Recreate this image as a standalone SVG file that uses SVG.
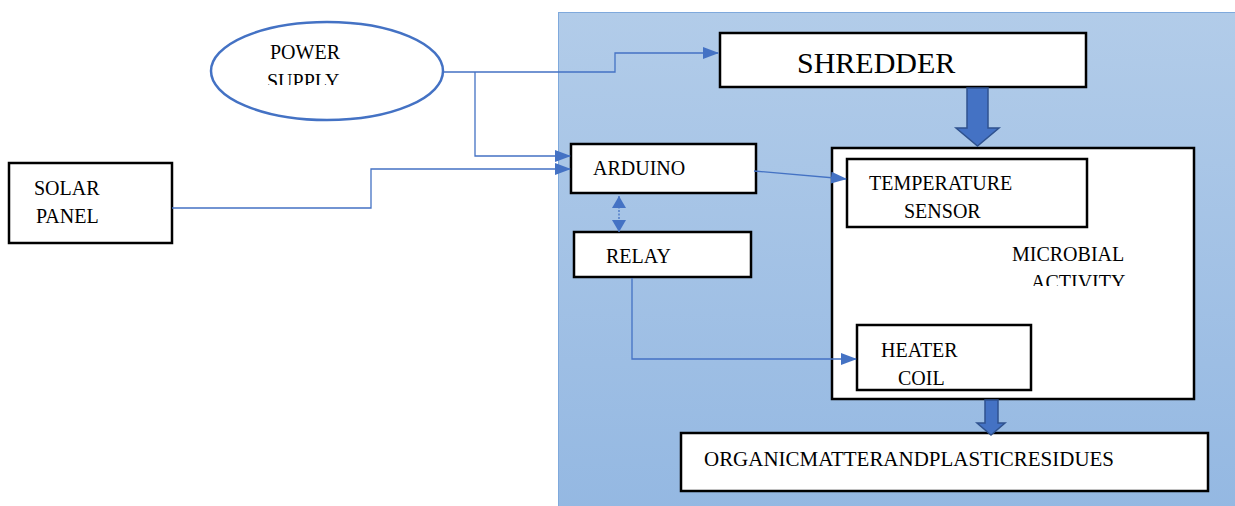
<svg xmlns="http://www.w3.org/2000/svg" width="1235" height="506" viewBox="0 0 1235 506">
<style>
.t{font-family:"Liberation Serif","Times New Roman",serif;font-size:20px;fill:#000}
.box{fill:#fff;stroke:#000;stroke-width:2.5}
.con{fill:none;stroke:#4472c4;stroke-width:1.3}
.blk{fill:#4472c4;stroke:#2f528f;stroke-width:1.5}
</style>
<defs>
<linearGradient id="bg" x1="0" y1="0" x2="0" y2="1">
<stop offset="0" stop-color="#b2cce9"/>
<stop offset="1" stop-color="#94b8e2"/>
</linearGradient>
<marker id="ah" markerUnits="userSpaceOnUse" markerWidth="16" markerHeight="12" refX="15" refY="6" orient="auto">
<path d="M0,0 L16,6 L0,12 Z" fill="#4472c4"/>
</marker>
<marker id="ahs" markerUnits="userSpaceOnUse" markerWidth="13" markerHeight="14" refX="12" refY="7" orient="auto-start-reverse">
<path d="M0,0 L12,7 L0,14 Z" fill="#4472c4"/>
</marker>
<clipPath id="cs"><rect x="200" y="20" width="200" height="65"/></clipPath>
<clipPath id="ca"><rect x="990" y="230" width="180" height="56"/></clipPath>
</defs>
<rect id="panel" x="558.5" y="12.5" width="690" height="500" fill="url(#bg)" stroke="#7fa9dc" stroke-width="1"/>
<g id="power-supply">
<ellipse cx="327" cy="71" rx="116" ry="49" fill="#fff" stroke="#4472c4" stroke-width="2.5"/>
<text class="t" x="270" y="59">POWER</text>
<text class="t" x="267" y="88" clip-path="url(#cs)">SUPPLY</text>
</g>
<g id="solar-panel">
<rect class="box" x="9" y="163" width="163" height="80"/>
<text class="t" x="34" y="195">SOLAR</text>
<text class="t" x="36" y="223">PANEL</text>
</g>
<g id="shredder">
<rect class="box" x="720" y="33" width="366" height="54"/>
<text class="t" x="797" y="73" style="font-size:30px">SHREDDER</text>
</g>
<g id="arduino">
<rect class="box" x="571" y="144" width="185" height="49"/>
<text class="t" x="593" y="175">ARDUINO</text>
</g>
<g id="relay">
<rect class="box" x="574" y="232" width="177" height="45"/>
<text class="t" x="606" y="263">RELAY</text>
</g>
<g id="microbial-activity">
<rect class="box" x="832" y="148" width="362" height="251"/>
<text class="t" x="1012" y="261">MICROBIAL</text>
<text class="t" x="1031" y="289" clip-path="url(#ca)">ACTIVITY</text>
</g>
<g id="temperature-sensor">
<rect class="box" x="847" y="159" width="240" height="68"/>
<text class="t" x="869" y="190">TEMPERATURE</text>
<text class="t" x="904" y="218">SENSOR</text>
</g>
<g id="heater-coil">
<rect class="box" x="857" y="325" width="174" height="65"/>
<text class="t" x="881" y="357">HEATER</text>
<text class="t" x="898" y="385">COIL</text>
</g>
<g id="residues">
<rect class="box" x="681" y="433" width="527" height="58"/>
<text class="t" x="704" y="466" textLength="410" lengthAdjust="spacingAndGlyphs">ORGANICMATTERANDPLASTICRESIDUES</text>
</g>
<g id="connectors">
<polyline class="con" points="443,72 615,72 615,53 718,53" marker-end="url(#ah)"/>
<polyline class="con" points="475,72 475,156 570,156" marker-end="url(#ah)"/>
<polyline class="con" points="172,208 371,208 371,169 570,169" marker-end="url(#ah)" stroke="#6f97d8"/>
<line class="con" x1="754" y1="171" x2="846" y2="179" marker-end="url(#ah)"/>
<line class="con" x1="619" y1="196" x2="619" y2="232" stroke-dasharray="2,1.5" marker-start="url(#ahs)" marker-end="url(#ahs)"/>
<polyline class="con" points="632,278 632,359 856,359" marker-end="url(#ah)"/>
<path class="blk" d="M967,88 L988,88 L988,128 L999,128 L977.5,146 L956,128 L967,128 Z"/>
<path class="blk" d="M985,400 L998,400 L998,423 L1005,423 L991,435 L977,423 L985,423 Z"/>
</g>
</svg>
